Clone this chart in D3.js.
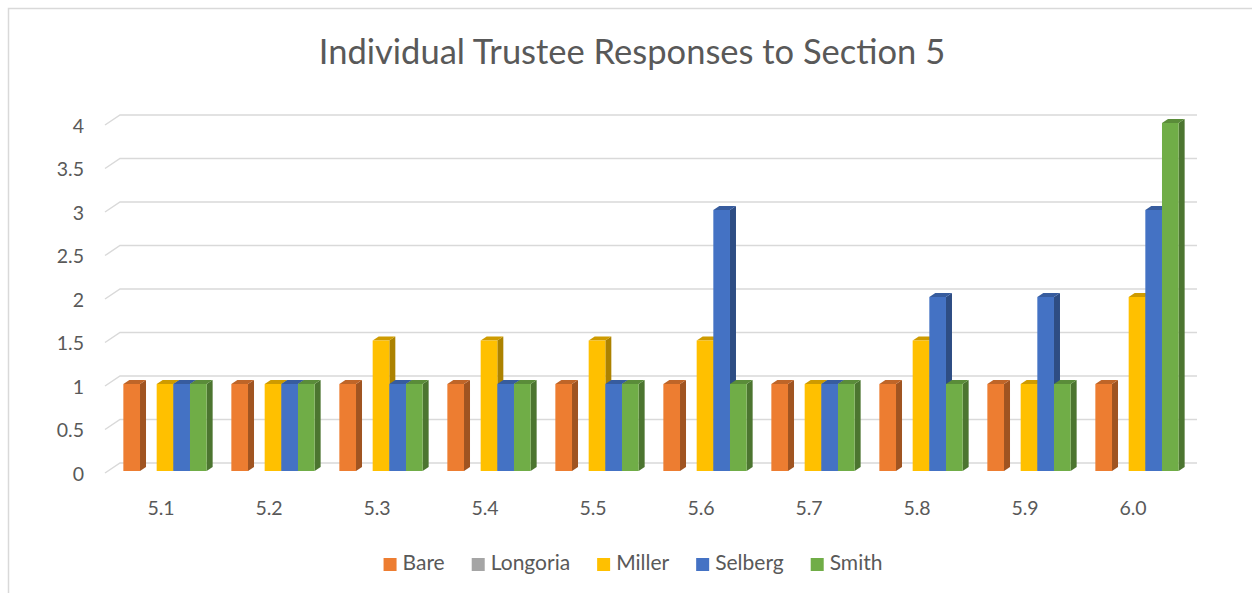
<!DOCTYPE html>
<html>
<head>
<meta charset="utf-8">
<script src="https://cdnjs.cloudflare.com/ajax/libs/d3/7.8.5/d3.min.js"></script>
<style>
  body { margin: 0; background: #fff; }
  text { font-family: Lato, "Open Sans", sans-serif; fill: #595959; }
</style>
</head>
<body>
<div id="chart"></div>
<script>
// chart data
var categories = ["5.1", "5.2", "5.3", "5.4", "5.5", "5.6", "5.7", "5.8", "5.9", "6.0"];
var seriesNames = ["Bare", "Longoria", "Miller", "Selberg", "Smith"];
var seriesColors = ["#ED7D31", "#A5A5A5", "#FFC000", "#4472C4", "#70AD47"];
var bare     = [1, 1, 1, 1, 1, 1, 1, 1, 1, 1];
var longoria = [0, 0, 0, 0, 0, 0, 0, 0, 0, 0];
var miller   = [1, 1, 1.5, 1.5, 1.5, 1.5, 1, 1.5, 1, 2];
var selberg  = [1, 1, 1, 1, 1, 3, 1, 2, 2, 3];
var smith    = [1, 1, 1, 1, 1, 1, 1, 1, 1, 4];
var yTicks = [0, 0.5, 1, 1.5, 2, 2.5, 3, 3.5, 4];

var Width = 1252, Height = 593;
var wallDx = 15, wallDy = 10;   // depth of the floor / wall
var barDx = 6, barDy = 4;       // depth of each column
var barDrop = 8;                // column front sits this far below the back wall

var allValues = [bare, longoria, miller, selberg, smith];

var svg = d3.select("#chart").append("svg")
    .attr("width", Width).attr("height", Height);

// chart area border (cropped on right and bottom like the original)
svg.append("rect")
    .attr("x", 8.5).attr("y", 8.5)
    .attr("width", Width + 20).attr("height", Height + 20)
    .attr("fill", "#fff").attr("stroke", "#D9D9D9").attr("stroke-width", 1.5);

// title
svg.append("text")
    .attr("x", 632).attr("y", 64)
    .attr("text-anchor", "middle")
    .attr("font-size", "34.5px")
    .text("Individual Trustee Responses to Section 5");

// scales
var yScale = d3.scaleLinear().domain([0, 4]).range([463, 115]);
var x0 = d3.scaleBand().domain(categories).range([111, 1191]);
var clusterW = 83.3;
var x1 = d3.scaleBand().domain(seriesNames)
    .range([(x0.bandwidth() - clusterW) / 2, (x0.bandwidth() + clusterW) / 2]);

// gridlines: diagonal on the side wall then across the back wall
var grid = svg.append("g").attr("class", "grid");
yTicks.forEach(function(t) {
    var yb = yScale(t);
    grid.append("path")
        .attr("d", "M" + (x0.range()[0] - 6) + "," + (yb + wallDy) +
                   "L" + (x0.range()[0] - 6 + wallDx) + "," + yb +
                   "H" + 1197)
        .attr("fill", "none")
        .attr("stroke", "#D9D9D9")
        .attr("stroke-width", 1.5);
});

// y axis labels
svg.append("g").selectAll("text")
    .data(yTicks).enter().append("text")
    .attr("x", 84)
    .attr("y", function(d) { return yScale(d) + 13; })
    .attr("text-anchor", "end")
    .attr("dominant-baseline", "middle")
    .attr("font-size", "19.5px")
    .text(function(d) { return d; });

// category labels
svg.append("g").selectAll("text")
    .data(categories).enter().append("text")
    .attr("x", function(d) { return x0(d) + x0.bandwidth() / 2 - 4; })
    .attr("y", 510)
    .attr("text-anchor", "middle")
    .attr("dominant-baseline", "middle")
    .attr("font-size", "19.5px")
    .text(function(d) { return d; });

// columns, drawn left to right so the next front face hides the previous side
var bars = svg.append("g").attr("class", "bars");
categories.forEach(function(cat, ci) {
    seriesNames.forEach(function(name, si) {
        var v = allValues[si][ci];
        if (v <= 0) return;
        var col = d3.color(seriesColors[si]);
        var xl = x0(cat) + x1(name);
        var w = x1.bandwidth();
        var yt = yScale(v) + barDrop;
        var yb = yScale(0) + barDrop;
        var g = bars.append("g");
        // side face
        g.append("path")
            .attr("d", "M" + (xl + w) + "," + yt + "L" + (xl + w + barDx) + "," + (yt - barDy) +
                       "L" + (xl + w + barDx) + "," + (yb - barDy) + "L" + (xl + w) + "," + yb + "Z")
            .attr("fill", col.darker(1.1));
        // top face
        g.append("path")
            .attr("d", "M" + xl + "," + yt + "L" + (xl + barDx) + "," + (yt - barDy) +
                       "L" + (xl + w + barDx) + "," + (yt - barDy) + "L" + (xl + w) + "," + yt + "Z")
            .attr("fill", col.darker(0.6));
        // front face
        g.append("rect")
            .attr("x", xl).attr("y", yt)
            .attr("width", w).attr("height", yb - yt)
            .attr("fill", col);
    });
});

// legend, laid out from measured text widths and centred
var legend = svg.append("g").attr("class", "legend");
var lx = 0;
seriesNames.forEach(function(name, i) {
    var item = legend.append("g").attr("transform", "translate(" + lx + ",0)");
    item.append("rect")
        .attr("x", 0).attr("y", -7)
        .attr("width", 13).attr("height", 13)
        .attr("fill", seriesColors[i]);
    var t = item.append("text")
        .attr("x", 19).attr("y", 0)
        .attr("dominant-baseline", "middle")
        .attr("font-size", "21px")
        .text(name);
    lx += 19 + t.node().getComputedTextLength() + 27;
});
var legendW = lx - 27;
legend.attr("transform", "translate(" + (633 - legendW / 2) + ",565)");
</script>
</body>
</html>
